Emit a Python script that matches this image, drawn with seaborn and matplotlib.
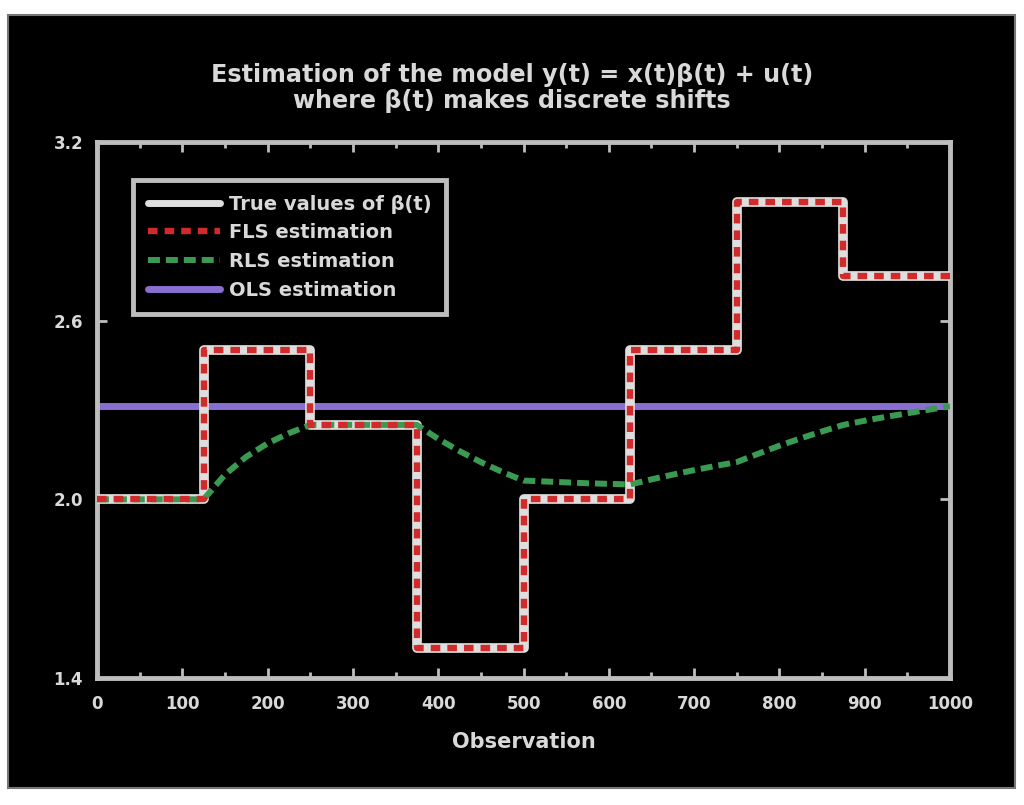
import matplotlib
matplotlib.use("Agg")
import matplotlib.pyplot as plt
from matplotlib.patches import Rectangle
from matplotlib.ticker import MultipleLocator
import seaborn as sns
import pandas as pd

# ---- data ----
step_obs = [0, 125, 250, 375, 500, 625, 750, 875, 1000]
true_beta = [2.0, 2.5, 2.25, 1.5, 2.0, 2.5, 3.0, 2.75, 2.75]
fls_beta = [2.0, 2.5, 2.25, 1.5, 2.0, 2.5, 3.0, 2.75, 2.75]

rls_obs = [0, 25, 50, 75, 100, 125, 150, 175, 200, 225, 250, 275, 300, 325, 350, 375,
           400, 425, 450, 475, 500, 525, 550, 575, 600, 625, 650, 675, 700, 725, 750,
           775, 800, 825, 850, 875, 900, 925, 950, 975, 1000]
rls_beta = [2.0, 2.0, 2.0, 2.0, 2.0, 2.0, 2.083, 2.143, 2.188, 2.222, 2.25, 2.25, 2.25, 2.25, 2.25, 2.25,
            2.203, 2.162, 2.125, 2.092, 2.063, 2.06, 2.057, 2.054, 2.052, 2.05, 2.067, 2.083, 2.098, 2.112, 2.125,
            2.153, 2.18, 2.205, 2.228, 2.25, 2.264, 2.277, 2.289, 2.301, 2.3125]
ols_obs = [0, 1000]
ols_beta = [2.3125, 2.3125]

title_lines = ["Estimation of the model y(t) = x(t)\u03b2(t) + u(t)",
               "where \u03b2(t) makes discrete shifts"]
legend_labels = ["True values of \u03b2(t)", "FLS estimation", "RLS estimation", "OLS estimation"]
x_label = "Observation"
x_ticks = list(range(0, 1001, 100))
y_ticks = [1.4, 2.0, 2.6, 3.2]

sns.set_theme(style="dark")
plt.rcParams['font.family'] = ['DejaVu Sans']

W, H = 1024, 805
fig = plt.figure(figsize=(W / 100, H / 100), dpi=100, facecolor="white")
fig.patches.append(Rectangle((8 / W, (H - 788) / H), (1015 - 8) / W, (788 - 15) / H,
                             transform=fig.transFigure, facecolor="black",
                             edgecolor="#777777", linewidth=1.5, zorder=-5))

ax = fig.add_axes([97 / W, (H - 678) / H, (950 - 97) / W, (678 - 142) / H])
ax.set_facecolor("black")

txt = "#d9d9d9"
frame = "#bdbdbd"

df_true = pd.DataFrame({"obs": step_obs, "beta": true_beta})
df_fls = pd.DataFrame({"obs": step_obs, "beta": fls_beta})
df_rls = pd.DataFrame({"obs": rls_obs, "beta": rls_beta})
df_ols = pd.DataFrame({"obs": ols_obs, "beta": ols_beta})

sns.lineplot(data=df_true, x="obs", y="beta", ax=ax, drawstyle="steps-post",
             color="#dedede", linewidth=7, label=legend_labels[0], zorder=3)
sns.lineplot(data=df_fls, x="obs", y="beta", ax=ax, drawstyle="steps-post",
             color="#d02a2a", linewidth=4.6, dashes=(1.5, 1.1), label=legend_labels[1], zorder=4)
sns.lineplot(data=df_rls, x="obs", y="beta", ax=ax,
             color="#3a9a52", linewidth=4.3, dashes=(2.0, 1.0), label=legend_labels[2], zorder=3)
sns.lineplot(data=df_ols, x="obs", y="beta", ax=ax,
             color="#8a6fd2", linewidth=5, label=legend_labels[3], zorder=2)

ax.set_xlim(0, 1000)
ax.set_ylim(1.4, 3.2)
ax.set_xticks(x_ticks)
ax.set_yticks(y_ticks)
ax.set_yticklabels([f"{v:.1f}" for v in y_ticks])
ax.xaxis.set_minor_locator(MultipleLocator(50))
ax.grid(False)

for s in ax.spines.values():
    s.set_visible(True)
    s.set_color(frame)
    s.set_linewidth(3.5)

ax.tick_params(axis="both", which="both", direction="in", colors=frame,
               labelcolor=txt, top=True, right=True, bottom=True, left=True)
ax.tick_params(axis="both", which="major", length=7, width=2, labelsize=12)
ax.tick_params(axis="both", which="minor", length=4, width=2)
ax.tick_params(axis="x", pad=12)
ax.tick_params(axis="y", pad=10)
for lab in ax.get_xticklabels() + ax.get_yticklabels():
    lab.set_fontweight("bold")

ax.set_xlabel(x_label, color=txt, fontsize=15, fontweight="bold", labelpad=14)
ax.set_ylabel("")

fig.text(0.5, (H - 75) / H, title_lines[0], ha="center", va="center",
         color=txt, fontsize=17.2, fontweight="bold")
fig.text(0.5, (H - 101) / H, title_lines[1], ha="center", va="center",
         color=txt, fontsize=17.2, fontweight="bold")

leg = ax.legend(loc="upper left", bbox_to_anchor=(36 / 853, 1 - 38 / 536), frameon=True,
                borderaxespad=0, fontsize=14, handlelength=3.7, handletextpad=0.5,
                borderpad=0.75, labelspacing=0.5, fancybox=False)
leg.get_frame().set_facecolor("black")
leg.get_frame().set_edgecolor(frame)
leg.get_frame().set_linewidth(3.5)
leg.get_frame().set_alpha(1)
for t in leg.get_texts():
    t.set_color(txt)
    t.set_fontweight("bold")
leg.legend_handles[0].set_linewidth(5)

fig.savefig("out.png", dpi=100, facecolor="white")
